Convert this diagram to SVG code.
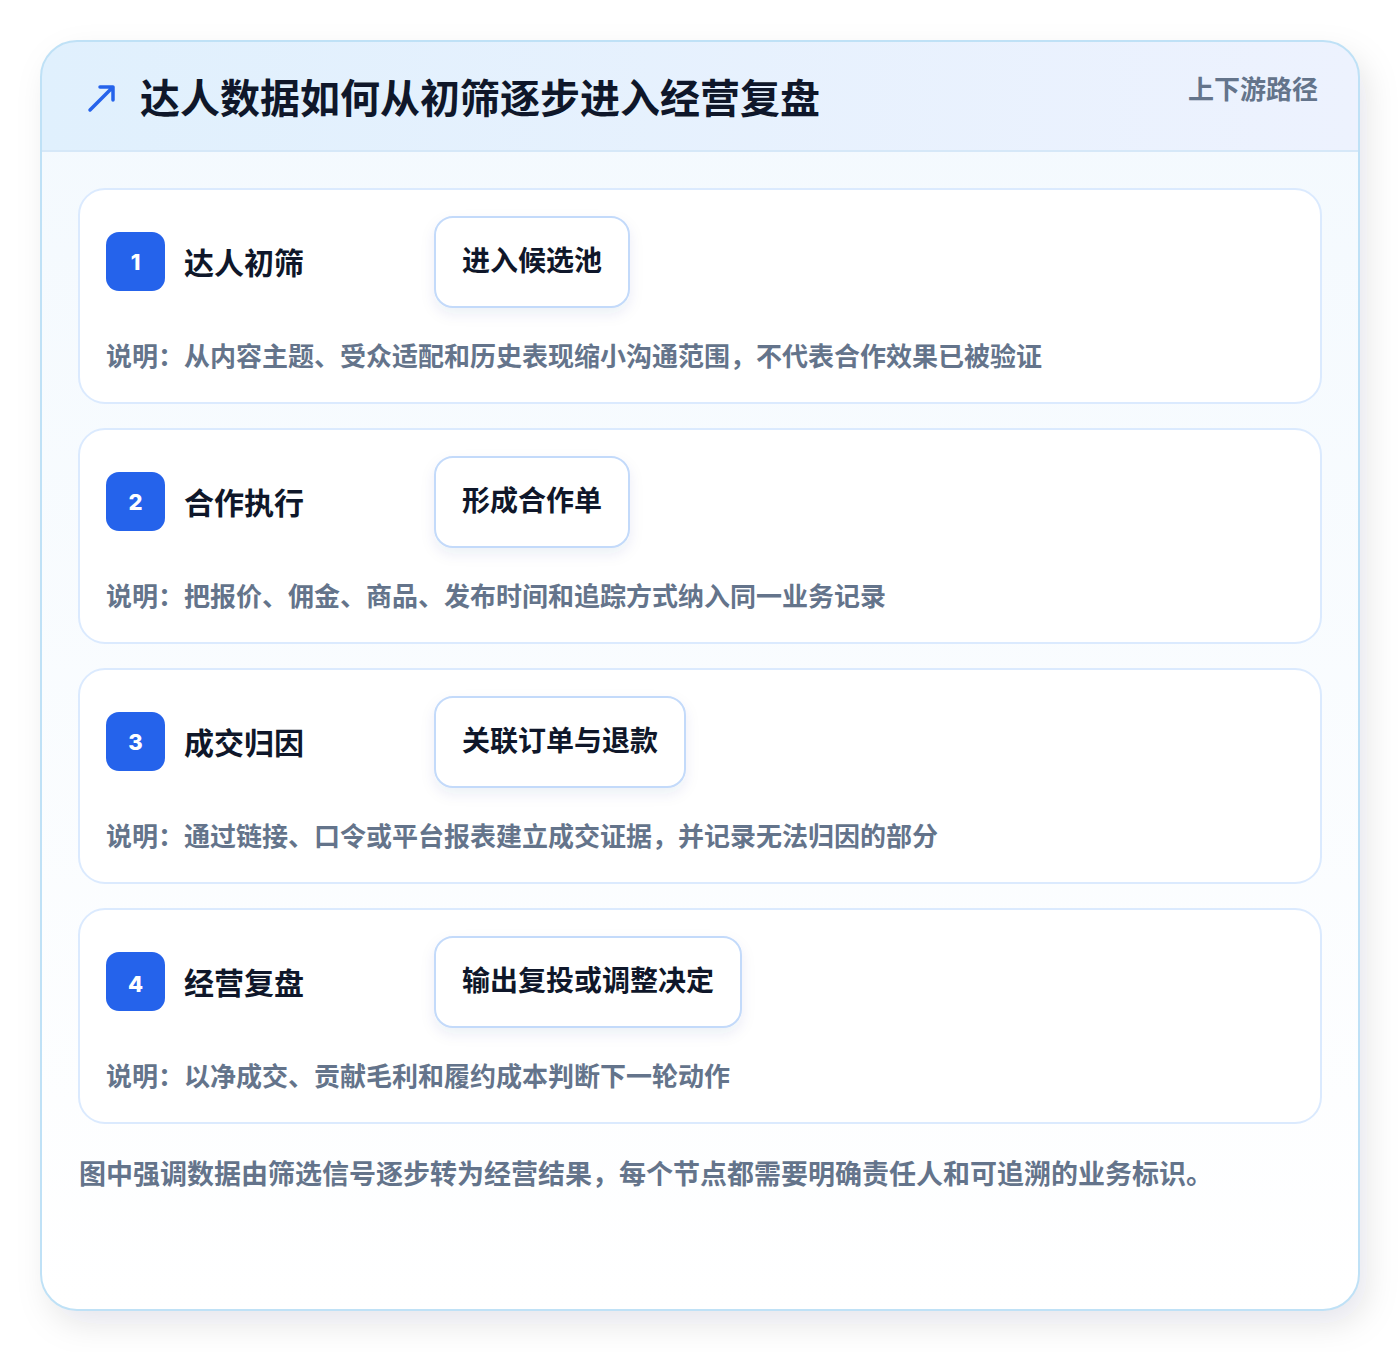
<svg xmlns="http://www.w3.org/2000/svg" width="1400" height="1352" viewBox="0 0 1400 1352">
<defs>
<linearGradient id="hdr" x1="0" y1="0" x2="1" y2="0"><stop offset="0" stop-color="#e0f0fd"/><stop offset="1" stop-color="#edf2fe"/></linearGradient>
<linearGradient id="body" x1="0" y1="0" x2="0" y2="1"><stop offset="0" stop-color="#f3f9fe"/><stop offset="1" stop-color="#ffffff"/></linearGradient>
<filter id="sh" x="-10%" y="-10%" width="125%" height="125%"><feDropShadow dx="8" dy="14" stdDeviation="16" flood-color="#0f172a" flood-opacity="0.10"/></filter>
<filter id="psh" x="-20%" y="-30%" width="140%" height="170%"><feDropShadow dx="0" dy="6" stdDeviation="7" flood-color="#1e3a8a" flood-opacity="0.08"/></filter>
<clipPath id="oc"><rect x="41" y="41" width="1318" height="1269" rx="36"/></clipPath>
<style>
.card{fill:#ffffff;stroke:#dbeafe;stroke-width:2}
.badge{fill:#2563eb}
.num{font-family:"Inter","Liberation Sans",sans-serif;font-weight:800;font-size:22px;fill:#ffffff;text-anchor:middle}
.ttl{font-family:"Noto Sans CJK SC","Noto Sans",sans-serif;font-weight:700;font-size:30px;fill:#0f172a}
.pill{fill:#ffffff;stroke:#c3dafa;stroke-width:2}
.ptx{font-family:"Noto Sans CJK SC","Noto Sans",sans-serif;font-weight:700;font-size:28px;fill:#0f172a}
.desc{font-family:"Noto Sans CJK SC","Noto Sans",sans-serif;font-weight:700;font-size:26px;fill:#64748b}
</style>
</defs>
<rect width="1400" height="1352" fill="#ffffff"/>
<g id="frame">
<rect x="41" y="41" width="1318" height="1269" rx="36" fill="url(#body)" filter="url(#sh)"/>
<g clip-path="url(#oc)">
<rect x="41" y="41" width="1318" height="110" fill="url(#hdr)"/>
<line x1="41" y1="151" x2="1359" y2="151" stroke="#d6e8f8" stroke-width="2"/>
</g>
<rect x="41" y="41" width="1318" height="1269" rx="36" fill="none" stroke="#bfe1f6" stroke-width="2"/>
<path d="M90 110 L113 87 M100 87 L113 87 L113 100" fill="none" stroke="#2563eb" stroke-width="3.5" stroke-linecap="round" stroke-linejoin="round"/>
<text x="140" y="113" font-family="Noto Sans CJK SC, Noto Sans, sans-serif" font-weight="700" font-size="40" fill="#0f172a">达人数据如何从初筛逐步进入经营复盘</text>
<text x="1318" y="99" text-anchor="end" font-family="Noto Sans CJK SC, Noto Sans, sans-serif" font-weight="700" font-size="26" fill="#64748b">上下游路径</text>
</g>
<g id="connectors"></g>
<g id="step1">
<rect class="card" x="79" y="189" width="1242" height="214" rx="26"/>
<rect class="badge" x="106" y="232" width="59" height="59" rx="13"/>
<text class="num" x="135.5" y="270">1</text>
<text class="ttl" x="184" y="274">达人初筛</text>
<rect class="pill" x="435" y="217" width="194" height="90" rx="18" filter="url(#psh)"/>
<text class="ptx" x="462" y="271">进入候选池</text>
<text class="desc" x="106" y="366">说明：从内容主题、受众适配和历史表现缩小沟通范围，不代表合作效果已被验证</text>
</g>
<g id="step2">
<rect class="card" x="79" y="429" width="1242" height="214" rx="26"/>
<rect class="badge" x="106" y="472" width="59" height="59" rx="13"/>
<text class="num" x="135.5" y="510">2</text>
<text class="ttl" x="184" y="514">合作执行</text>
<rect class="pill" x="435" y="457" width="194" height="90" rx="18" filter="url(#psh)"/>
<text class="ptx" x="462" y="511">形成合作单</text>
<text class="desc" x="106" y="606">说明：把报价、佣金、商品、发布时间和追踪方式纳入同一业务记录</text>
</g>
<g id="step3">
<rect class="card" x="79" y="669" width="1242" height="214" rx="26"/>
<rect class="badge" x="106" y="712" width="59" height="59" rx="13"/>
<text class="num" x="135.5" y="750">3</text>
<text class="ttl" x="184" y="754">成交归因</text>
<rect class="pill" x="435" y="697" width="250" height="90" rx="18" filter="url(#psh)"/>
<text class="ptx" x="462" y="751">关联订单与退款</text>
<text class="desc" x="106" y="846">说明：通过链接、口令或平台报表建立成交证据，并记录无法归因的部分</text>
</g>
<g id="step4">
<rect class="card" x="79" y="909" width="1242" height="214" rx="26"/>
<rect class="badge" x="106" y="952" width="59" height="59" rx="13"/>
<text class="num" x="135.5" y="992">4</text>
<text class="ttl" x="184" y="994">经营复盘</text>
<rect class="pill" x="435" y="937" width="306" height="90" rx="18" filter="url(#psh)"/>
<text class="ptx" x="462" y="991">输出复投或调整决定</text>
<text class="desc" x="106" y="1086">说明：以净成交、贡献毛利和履约成本判断下一轮动作</text>
</g>
<g id="footer">
<text x="79" y="1184" font-family="Noto Sans CJK SC, Noto Sans, sans-serif" font-weight="700" font-size="27" fill="#64748b">图中强调数据由筛选信号逐步转为经营结果，每个节点都需要明确责任人和可追溯的业务标识。</text>
</g>
</svg>
